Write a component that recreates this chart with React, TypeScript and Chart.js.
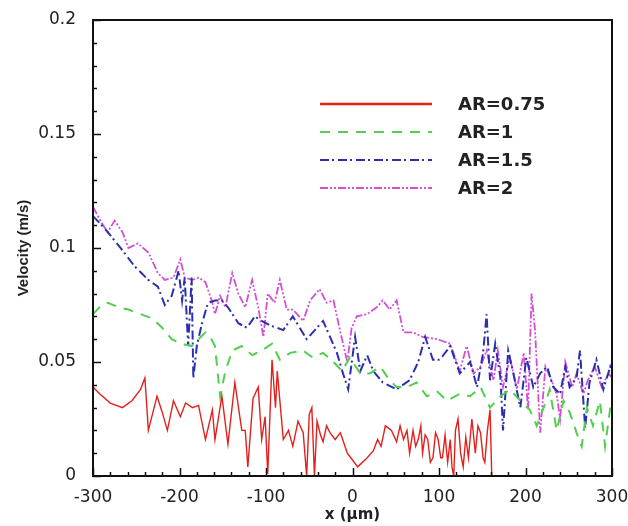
import React, { useEffect, useRef } from "react";
import { Chart, registerables } from "chart.js";

Chart.register(...registerables);

// ---- data ----
const xTicks = [-300, -200, -100, 0, 100, 200, 300];
const yTicks = [0, 0.05, 0.1, 0.15, 0.2];
const yTickLabels = ["0", "0.05", "0.1", "0.15", "0.2"];
const seriesNames = ["AR=0.75", "AR=1", "AR=1.5", "AR=2"];

const ar075X = [-300, -292, -280, -266, -255, -245, -240, -236, -226, -220, -214, -207, -199, -193, -185, -178, -170, -162, -159, -151, -144, -136, -128, -124, -121, -115, -109, -105, -101, -98, -93, -89, -87, -80, -74, -69, -63, -57, -53, -50, -47, -44, -41, -37, -34, -30, -26, -20, -14, -6, 0, 6, 17, 24, 29, 33, 38, 45, 51, 55, 59, 63, 66, 70, 73, 76, 79, 81, 84, 87, 90, 93, 96, 99, 102, 104, 107, 110, 113, 115, 117, 119, 122, 125, 128, 131, 134, 138, 142, 145, 148, 151, 153, 156, 159, 161];
const ar075Y = [0.039, 0.036, 0.032, 0.030, 0.033, 0.038, 0.043, 0.020, 0.035, 0.028, 0.020, 0.033, 0.026, 0.032, 0.030, 0.031, 0.016, 0.029, 0.016, 0.035, 0.014, 0.041, 0.020, 0.020, 0.004, 0.034, 0.039, 0.016, 0.026, 0.001, 0.051, 0.030, 0.046, 0.016, 0.020, 0.013, 0.024, 0.019, 0.000, 0.027, 0.030, 0.000, 0.024, 0.018, 0.015, 0.022, 0.019, 0.016, 0.019, 0.010, 0.007, 0.004, 0.008, 0.011, 0.016, 0.013, 0.022, 0.020, 0.015, 0.022, 0.016, 0.020, 0.010, 0.020, 0.013, 0.016, 0.022, 0.010, 0.018, 0.016, 0.006, 0.008, 0.019, 0.016, 0.008, 0.008, 0.018, 0.006, 0.016, 0.004, 0.000, 0.020, 0.025, 0.010, 0.004, 0.017, 0.008, 0.025, 0.010, 0.022, 0.019, 0.008, 0.006, 0.020, 0.029, 0.000];

const ar1X = [-300, -290, -283, -270, -259, -245, -231, -220, -209, -198, -186, -178, -170, -163, -159, -153, -147, -139, -128, -116, -105, -93, -84, -72, -57, -46, -34, -22, -12, -3, 9, 20, 32, 43, 51, 63, 74, 86, 98, 109, 124, 136, 148, 159, 171, 182, 194, 205, 213, 221, 228, 236, 244, 251, 259, 265, 271, 278, 286, 292, 298, 300];
const ar1Y = [0.071, 0.075, 0.076, 0.074, 0.073, 0.071, 0.069, 0.065, 0.060, 0.058, 0.057, 0.060, 0.063, 0.060, 0.057, 0.035, 0.046, 0.055, 0.057, 0.053, 0.055, 0.058, 0.051, 0.054, 0.055, 0.052, 0.054, 0.050, 0.046, 0.052, 0.045, 0.045, 0.048, 0.042, 0.039, 0.039, 0.041, 0.035, 0.037, 0.033, 0.036, 0.035, 0.039, 0.030, 0.035, 0.038, 0.033, 0.029, 0.022, 0.030, 0.038, 0.020, 0.033, 0.028, 0.019, 0.013, 0.030, 0.022, 0.033, 0.013, 0.030, 0.028];

const ar15X = [-300, -290, -283, -266, -252, -236, -225, -217, -209, -201, -197, -194, -190, -186, -184, -180, -174, -167, -159, -151, -144, -132, -122, -113, -105, -95, -80, -69, -53, -34, -18, -11, -5, 3, 9, 17, 24, 35, 51, 66, 76, 84, 93, 101, 113, 124, 136, 144, 151, 155, 159, 165, 171, 174, 180, 186, 194, 201, 209, 217, 225, 232, 240, 246, 251, 259, 263, 269, 274, 282, 290, 298, 300];
const ar15Y = [0.114, 0.110, 0.107, 0.099, 0.092, 0.086, 0.083, 0.075, 0.079, 0.090, 0.077, 0.087, 0.057, 0.087, 0.043, 0.057, 0.067, 0.076, 0.077, 0.077, 0.074, 0.067, 0.065, 0.070, 0.068, 0.066, 0.064, 0.070, 0.060, 0.068, 0.054, 0.045, 0.038, 0.061, 0.046, 0.053, 0.046, 0.041, 0.038, 0.042, 0.050, 0.061, 0.051, 0.051, 0.057, 0.045, 0.050, 0.039, 0.054, 0.071, 0.042, 0.058, 0.043, 0.020, 0.055, 0.045, 0.030, 0.052, 0.039, 0.045, 0.048, 0.039, 0.036, 0.048, 0.039, 0.043, 0.055, 0.021, 0.041, 0.051, 0.038, 0.048, 0.046];

const ar2X = [-300, -290, -283, -275, -266, -259, -248, -236, -225, -217, -207, -199, -194, -185, -178, -170, -162, -159, -153, -147, -139, -132, -124, -116, -109, -103, -98, -90, -84, -76, -69, -57, -49, -38, -30, -22, -14, -6, -1, 5, 17, 28, 35, 43, 51, 59, 70, 81, 98, 113, 124, 132, 140, 148, 155, 163, 168, 174, 182, 190, 198, 203, 207, 211, 217, 223, 230, 236, 240, 246, 254, 259, 267, 272, 280, 288, 296, 300];
const ar2Y = [0.118, 0.111, 0.107, 0.112, 0.107, 0.100, 0.102, 0.098, 0.089, 0.086, 0.087, 0.095, 0.087, 0.086, 0.087, 0.085, 0.076, 0.071, 0.079, 0.074, 0.089, 0.080, 0.074, 0.086, 0.074, 0.061, 0.080, 0.076, 0.086, 0.073, 0.073, 0.068, 0.077, 0.082, 0.076, 0.077, 0.063, 0.050, 0.065, 0.070, 0.071, 0.074, 0.077, 0.073, 0.077, 0.063, 0.063, 0.061, 0.060, 0.058, 0.046, 0.057, 0.045, 0.048, 0.055, 0.042, 0.055, 0.039, 0.052, 0.038, 0.054, 0.029, 0.080, 0.064, 0.019, 0.048, 0.042, 0.036, 0.025, 0.050, 0.039, 0.045, 0.036, 0.042, 0.048, 0.039, 0.045, 0.043];

const seriesX = [ar075X, ar1X, ar15X, ar2X];
const seriesY = [ar075Y, ar1Y, ar15Y, ar2Y];

// ---- styles ----
const colors = ["#e3201c", "#52cf4e", "#2b2fae", "#d24fd4"];
const dashes: number[][] = [[], [10, 8], [9, 3, 2, 4], [8, 2, 2, 2, 2, 2]];
const widths = [1.4, 2, 2, 1.8];

const framePlugin = {
  id: "frameTicksLegend",
  afterDatasetsDraw(chart: any) {
    const { ctx, chartArea: a, scales } = chart;
    const xs = scales.x;
    const ys = scales.y;
    ctx.save();
    ctx.strokeStyle = "#111";
    ctx.lineWidth = 1.5;
    ctx.setLineDash([]);
    ctx.beginPath();
    for (let i = 0; i <= 30; i++) {
      const v = -300 + i * 20;
      const px = Math.round(xs.getPixelForValue(v)) + 0.5;
      const len = i % 5 === 0 ? 8 : 4;
      ctx.moveTo(px, a.bottom);
      ctx.lineTo(px, a.bottom - len);
    }
    for (let i = 0; i <= 20; i++) {
      const v = i * 0.01;
      const py = Math.round(ys.getPixelForValue(v)) + 0.5;
      const len = i % 5 === 0 ? 8 : 4;
      ctx.moveTo(a.left, py);
      ctx.lineTo(a.left + len, py);
    }
    ctx.stroke();
    ctx.lineWidth = 2;
    ctx.strokeRect(a.left, a.top, a.right - a.left, a.bottom - a.top);

    // legend
    const lx0 = 320, lx1 = 432, tx = 458;
    const rows = [104, 132, 160, 188];
    ctx.font = "bold 18px 'DejaVu Sans'";
    ctx.textBaseline = "middle";
    ctx.textAlign = "left";
    chart.data.datasets.forEach((ds: any, i: number) => {
      ctx.beginPath();
      ctx.strokeStyle = ds.borderColor;
      ctx.lineWidth = i === 0 ? 2.5 : 2;
      ctx.setLineDash(ds.borderDash || []);
      ctx.moveTo(lx0, rows[i]);
      ctx.lineTo(lx1, rows[i]);
      ctx.stroke();
      ctx.fillStyle = "#222";
      ctx.fillText(ds.label, tx, rows[i] + 1);
    });
    ctx.restore();
  },
};

export default function App() {
  const ref = useRef<HTMLCanvasElement | null>(null);
  useEffect(() => {
    if (!ref.current) return;
    const datasets = seriesNames.map((name, i) => ({
      label: name,
      data: seriesX[i].map((x, j) => ({ x, y: seriesY[i][j] })),
      borderColor: colors[i],
      backgroundColor: colors[i],
      borderDash: dashes[i],
      borderWidth: widths[i],
      pointRadius: 0,
      tension: 0,
      fill: false,
    }));
    const chart = new Chart(ref.current, {
      type: "line",
      data: { datasets: datasets as any },
      options: {
        responsive: false,
        animation: false,
        devicePixelRatio: 1,
        layout: { padding: { left: 0, right: 16, top: 20, bottom: 0 } },
        plugins: { legend: { display: false }, tooltip: { enabled: false } },
        scales: {
          x: {
            type: "linear",
            min: -300,
            max: 300,
            afterBuildTicks: (s: any) => {
              s.ticks = xTicks.map((v) => ({ value: v }));
            },
            afterFit: (s: any) => {
              s.height = 50;
              s.paddingLeft = 0;
              s.paddingRight = 0;
            },
            grid: { display: false },
            border: { display: false },
            ticks: {
              font: { family: "'DejaVu Sans'", size: 17 },
              color: "#222",
              padding: 3,
              maxRotation: 0,
              autoSkip: false,
              callback: (v: any) => String(v),
            },
            title: {
              display: true,
              text: "x (μm)",
              font: { family: "'DejaVu Sans'", size: 15, weight: "bold" },
              color: "#222",
              padding: { top: 0, bottom: 2 },
            },
          },
          y: {
            type: "linear",
            min: 0,
            max: 0.2,
            afterBuildTicks: (s: any) => {
              s.ticks = yTicks.map((v) => ({ value: v }));
            },
            afterFit: (s: any) => {
              s.width = 93;
              s.paddingTop = 0;
              s.paddingBottom = 0;
            },
            grid: { display: false },
            border: { display: false },
            ticks: {
              font: { family: "'DejaVu Sans'", size: 17 },
              color: "#222",
              padding: 9,
              autoSkip: false,
              callback: (v: any) => {
                const k = yTicks.findIndex((t) => Math.abs(t - Number(v)) < 1e-9);
                return k >= 0 ? yTickLabels[k] : "";
              },
            },
            title: {
              display: true,
              text: "Velocity (m/s)",
              font: { family: "'Liberation Sans'", size: 15, weight: "bold" },
              color: "#222",
              padding: { top: 15, bottom: 0 },
            },
          },
        },
      },
      plugins: [framePlugin],
    });
    return () => chart.destroy();
  }, []);
  return (
    <div style={{ position: "absolute", left: 0, top: 0, width: 628, height: 526, background: "#fff" }}>
      <canvas ref={ref} width={628} height={526} style={{ display: "block" }} />
    </div>
  );
}
